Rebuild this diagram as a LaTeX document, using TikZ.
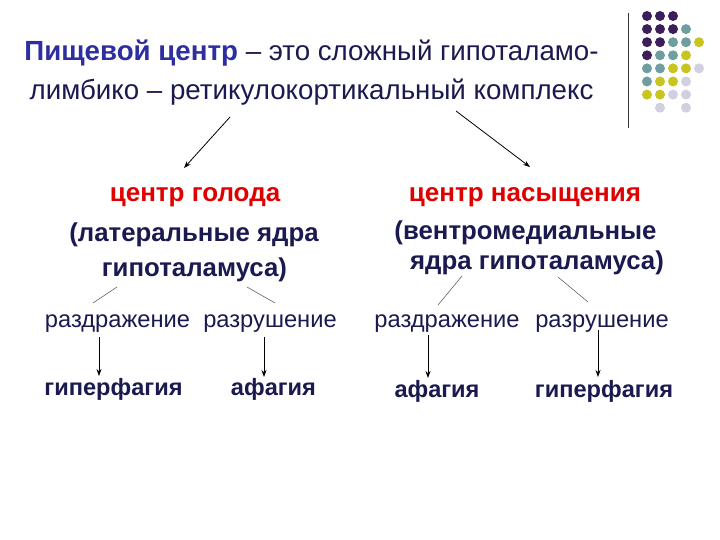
\documentclass[tikz,border=0pt]{standalone}
\usepackage{fontspec}
\setmainfont{Liberation Sans}
\usetikzlibrary{arrows.meta}
\definecolor{tblue}{HTML}{2E2E9E}
\definecolor{navy}{HTML}{1A1A50}
\definecolor{tred}{HTML}{E00000}
\definecolor{dpurp}{HTML}{3B1E5A}
\definecolor{dteal}{HTML}{6E9EA0}
\definecolor{dyel}{HTML}{C8C420}
\definecolor{dlav}{HTML}{D0D0E0}
\tikzset{
  txt/.style={inner sep=0pt, anchor=base},
  titletxt/.style={txt, font=\fontsize{27.7}{40}\selectfont, text=navy},
  redtxt/.style={txt, font=\fontsize{26}{30}\selectfont\bfseries, text=tred},
  boldtxt/.style={txt, font=\fontsize{25.8}{30}\selectfont\bfseries, text=navy},
  subtxt/.style={txt, font=\fontsize{23.7}{30}\selectfont, text=navy},
  outtxt/.style={txt, font=\fontsize{23.6}{30}\selectfont\bfseries, text=navy},
  arr/.style={-{Stealth[length=7pt,width=5pt]}, line width=0.8pt, black},
  thin/.style={line width=0.5pt, black!70},
}
\begin{document}
\begin{tikzpicture}[x=1pt,y=-1pt]
\useasboundingbox[fill=white] (0,0) rectangle (720,540);
% decoration
\draw[line width=0.8pt, black!80] (628,13) -- (628,128);
\foreach \r/\list in {0/{dpurp,dpurp,dpurp,white,white},1/{dpurp,dpurp,dpurp,dteal,white},2/{dpurp,dpurp,dteal,dteal,dyel},3/{dpurp,dteal,dteal,dyel,white},4/{dteal,dteal,dyel,dyel,dlav},5/{dteal,dyel,dyel,dlav,white},6/{dyel,dyel,dlav,dlav,white},7/{white,dlav,white,dlav,white}}{
  \foreach \c [count=\i from 0] in \list {
    \fill[\c] (647+13*\i,16+13.1*\r) circle (5);
  }
}
% title
\node[titletxt] (t1) at (311.5,61) {{\bfseries\color{tblue}Пищевой центр} – это сложный гипоталамо-};
\node[titletxt] (t2) at (311.5,100) {лимбико – ретикулокортикальный комплекс};
% centres
\node[redtxt] (lc) at (195,202) {центр голода};
\node[boldtxt] (ll1) at (194,241) {(латеральные ядра};
\node[boldtxt] (ll2) at (194.5,276) {гипоталамуса)};
\node[redtxt] (rc) at (525,202) {центр насыщения};
\node[boldtxt] (rl1) at (525.5,240) {(вентромедиальные};
\node[boldtxt] (rl2) at (537,269) {ядра гипоталамуса)};
\coordinate (a1s) at (230,117); \coordinate (a1e) at (184,168);
\coordinate (a2s) at (456,111); \coordinate (a2e) at (530,167);
\draw[arr] (a1s) -- (a1e);
\draw[arr] (a2s) -- (a2e);
% sub
\node[subtxt] (lir) at (117.5,327.5) {раздражение};
\node[subtxt] (lde) at (270,327.5) {разрушение};
\node[subtxt] (rir) at (447,327.5) {раздражение};
\node[subtxt] (rde) at (602,327.5) {разрушение};
\coordinate (s1a) at (117,287); \coordinate (s1b) at (93,303);
\coordinate (s2a) at (247,287); \coordinate (s2b) at (275,303);
\coordinate (s3a) at (462,276); \coordinate (s3b) at (438,305);
\coordinate (s4a) at (558,277); \coordinate (s4b) at (588,302);
\draw[thin] (s1a) -- (s1b);
\draw[thin] (s2a) -- (s2b);
\draw[thin] (s3a) -- (s3b);
\draw[thin] (s4a) -- (s4b);
% outcomes
\node[outtxt] (o1) at (113.5,395) {гиперфагия};
\node[outtxt] (o2) at (273.5,395) {афагия};
\node[outtxt] (o3) at (437,397) {афагия};
\node[outtxt] (o4) at (604,397) {гиперфагия};
\coordinate (d1s) at (99,337); \coordinate (d1e) at (99,376);
\coordinate (d2s) at (264,337); \coordinate (d2e) at (264,377);
\coordinate (d3s) at (428,335); \coordinate (d3e) at (428,378);
\coordinate (d4s) at (598,330); \coordinate (d4e) at (598,377);
\draw[arr] (d1s) -- (d1e);
\draw[arr] (d2s) -- (d2e);
\draw[arr] (d3s) -- (d3e);
\draw[arr] (d4s) -- (d4e);
\end{tikzpicture}
\end{document}
